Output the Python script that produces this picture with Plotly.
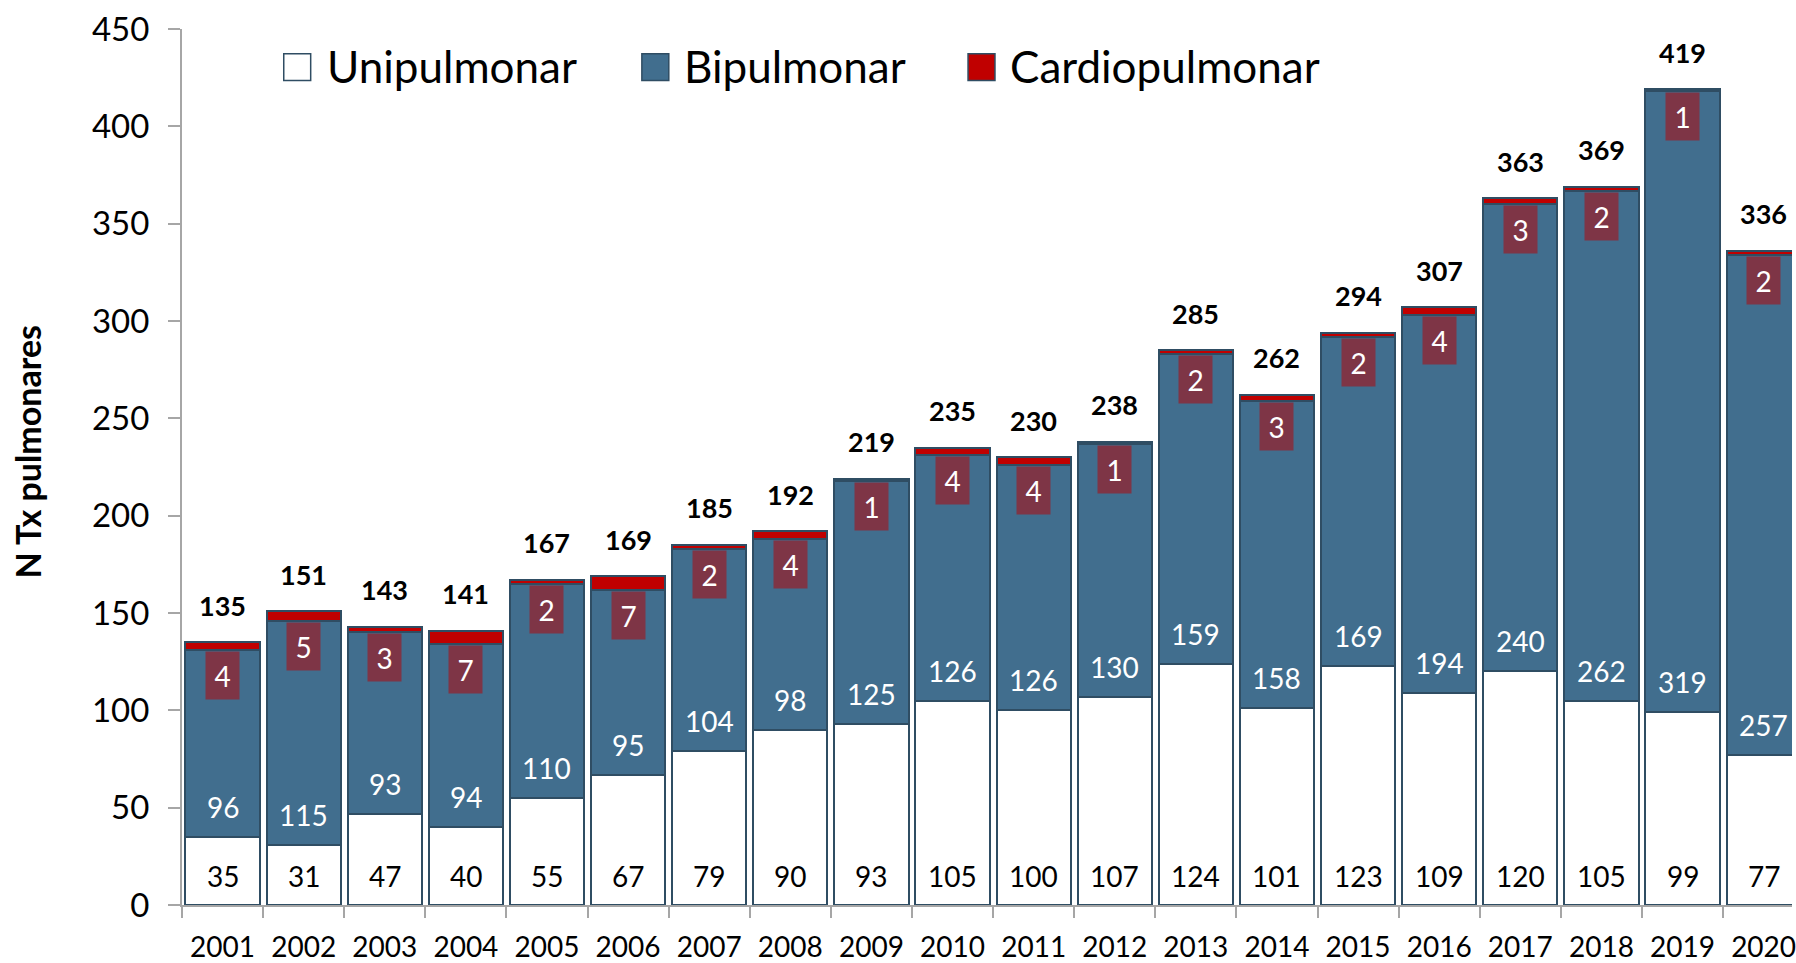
import plotly.graph_objects as go

years = [str(y) for y in range(2001, 2021)]
uni = [35, 31, 47, 40, 55, 67, 79, 90, 93, 105, 100, 107, 124, 101, 123, 109, 120, 105, 99, 77]
bi = [96, 115, 93, 94, 110, 95, 104, 98, 125, 126, 126, 130, 159, 158, 169, 194, 240, 262, 319, 257]
cardio = [4, 5, 3, 7, 2, 7, 2, 4, 1, 4, 4, 1, 2, 3, 2, 4, 3, 2, 1, 2]
series_names = ["Unipulmonar", "Bipulmonar", "Cardiopulmonar"]
y_title = "N Tx pulmonares"

W, H = 1796, 963
ML, MR, MT, MB = 182, 0, 29, 50
PW, PH = W - ML - MR, H - MT - MB

FONT = "Lato"
C_UNI, C_BI, C_CARD = "#FFFFFF", "#416E8E", "#C00000"
C_EDGE = "#2F4D63"
C_BOX = "#7E3546"

fig = go.Figure()
for name, vals, col in zip(series_names, [uni, bi, cardio], [C_UNI, C_BI, C_CARD]):
    fig.add_trace(go.Bar(x=years, y=vals, name=name, marker=dict(color=col, line=dict(color=C_EDGE, width=2)),
                         showlegend=False, hoverinfo="x+y+name"))

ann = []
for i, yr in enumerate(years):
    tot = uni[i] + bi[i] + cardio[i]
    ann.append(dict(x=i, y=tot, text="<b>%d</b>" % tot, showarrow=False, yanchor="middle", yshift=37,
                    font=dict(family=FONT, size=27, color="black")))
    ann.append(dict(x=i, y=0, text=str(uni[i]), showarrow=False, yanchor="middle", yshift=29,
                    font=dict(family=FONT, size=28, color="black")))
    ann.append(dict(x=i, y=uni[i], text=str(bi[i]), showarrow=False, yanchor="middle", yshift=30,
                    font=dict(family=FONT, size=28, color="white")))
    ann.append(dict(x=i, y=uni[i] + bi[i], text=str(cardio[i]), showarrow=False, yanchor="top", yshift=-1,
                    width=33, height=47, bgcolor=C_BOX, borderpad=0,
                    font=dict(family=FONT, size=28, color="white")))

def px(xp):
    return (xp - ML) / PW

def py(yp):
    return (H - MB - yp) / PH

shapes = []
legend_items = [(284, 325, C_UNI), (643, 683, C_BI), (970, 1010, C_CARD)]
for (sx, tx, col), name in zip(legend_items, series_names):
    shapes.append(dict(type="rect", xref="paper", yref="paper", x0=px(sx), x1=px(sx + 27), y0=py(81), y1=py(54),
                       fillcolor=col, line=dict(color=C_EDGE, width=1.5)))
    ann.append(dict(xref="paper", yref="paper", x=px(tx), y=py(66), xanchor="left", yanchor="middle",
                    text=name, showarrow=False, font=dict(family=FONT, size=44, color="black")))

ann.append(dict(xref="paper", yref="paper", x=px(27), y=py(455), xanchor="center", yanchor="middle",
                text="<b>%s</b>" % y_title, textangle=-90, showarrow=False,
                font=dict(family=FONT, size=34, color="black")))

fig.update_layout(
    width=W, height=H, margin=dict(l=ML, r=MR, t=MT, b=MB, pad=0),
    barmode="stack", bargap=0.085,
    paper_bgcolor="white", plot_bgcolor="white",
    annotations=ann, shapes=shapes,
    xaxis=dict(type="category", range=[-0.5, 19.35], showgrid=False, showline=True, linecolor="#A6A6A6",
               linewidth=2, ticks="outside", tickson="boundaries", ticklen=11, tickcolor="#A6A6A6",
               tickwidth=2, tickfont=dict(family=FONT, size=28, color="black"), ticklabelstandoff=16),
    yaxis=dict(range=[0, 450], dtick=50, showgrid=False, showline=True, linecolor="#A6A6A6", linewidth=2,
               ticks="outside", ticklen=12, tickcolor="#A6A6A6", tickwidth=2, zeroline=False,
               tickfont=dict(family=FONT, size=33, color="black"), ticklabelstandoff=12),
)

fig.write_html("out.html", config={"displayModeBar": False},
               post_script="document.body.style.margin='0';document.body.style.overflow='hidden';")
